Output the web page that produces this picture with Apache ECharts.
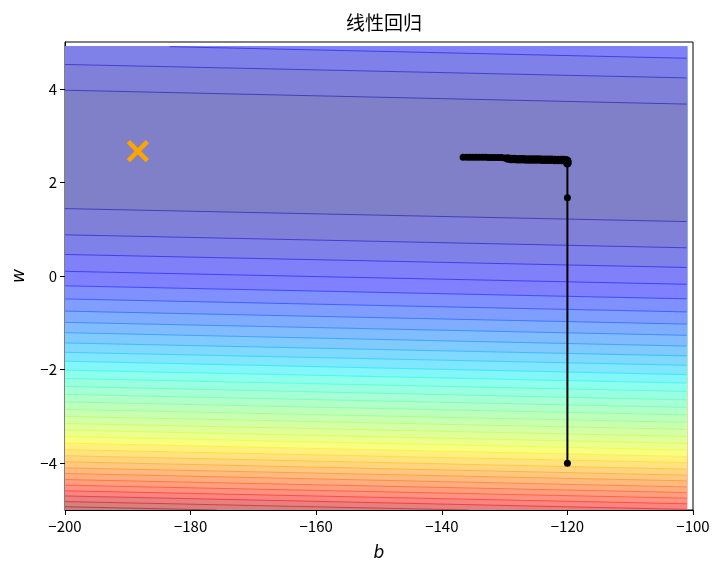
<!DOCTYPE html>
<html><head><meta charset="utf-8">
<script src="https://cdn.jsdelivr.net/npm/echarts@6/dist/echarts.min.js"></script>
<style>html,body{margin:0;padding:0;background:#fff}#c{width:727px;height:570px}</style>
</head><body><div id="c"></div>
<script>
// ---- data ----
const titleText = '线性回归';
const bRange = [-200, -100];            // x axis (b)
const wRange = [-5, 5];                 // y axis (w)
const fillB = [-200, -101];             // extent of the filled contour grid
const fillW = [-5, 4.9];
const xTickValues = [-200, -180, -160, -140, -120, -100];
const yTickValues = [-4, -2, 0, 2, 4];
// contour boundary lines: w value where each level line meets b=-200 and b=-100
const lowerAtLeft = [1.44, 0.88, 0.46, 0.10, -0.21, -0.49, -0.75, -0.99, -1.21, -1.43, -1.63, -1.82, -2.01, -2.19, -2.36, -2.53, -2.69, -2.85, -3.00, -3.15, -3.29, -3.43, -3.57, -3.71, -3.84, -3.97, -4.10, -4.22, -4.35, -4.47, -4.59, -4.70, -4.82, -4.93];
const lowerAtRight = [1.16, 0.60, 0.18, -0.18, -0.49, -0.77, -1.03, -1.27, -1.50, -1.71, -1.91, -2.11, -2.29, -2.47, -2.65, -2.81, -2.97, -3.13, -3.28, -3.43, -3.58, -3.72, -3.86, -3.99, -4.13, -4.26, -4.38, -4.51, -4.63, -4.75, -4.87, -4.99, -5.10, -5.22];
const upperAtLeft = [3.97, 4.52, 4.95];
const upperAtRight = [3.67, 4.23, 4.65];
const bandCount = 35;
// gradient descent path
const pathB = [-120, -120, -120, -120, -120.1, -120.3, -120.6,
  -121, -121.5, -122, -122.5, -123, -123.5, -124, -124.5, -125, -125.5, -126, -126.5, -127, -127.5, -128, -128.5,
  -129, -129.5, -130, -130.5, -131, -131.5, -132, -132.5, -133, -133.5, -134, -134.5, -135, -135.5, -136, -136.6];
const pathW = [-4.0, 1.67, 2.41, 2.45, 2.47, 2.475, 2.48,
  2.48, 2.48, 2.48, 2.485, 2.485, 2.485, 2.485, 2.49, 2.49, 2.49, 2.49, 2.49, 2.495, 2.495, 2.495, 2.50,
  2.50, 2.51, 2.52, 2.53, 2.53, 2.53, 2.53, 2.53, 2.535, 2.535, 2.535, 2.535, 2.54, 2.54, 2.54, 2.54];
// optimum marker
const bestB = [-188.4];
const bestW = [2.67];

// ---- helpers ----
function interp(anchors, x) {
  for (let i = 1; i < anchors.length; i++) {
    if (x <= anchors[i][0]) {
      const a = anchors[i - 1], c = anchors[i];
      return a[1] + (c[1] - a[1]) * (x - a[0]) / (c[0] - a[0]);
    }
  }
  return anchors[anchors.length - 1][1];
}
function jet(x) {
  const r = interp([[0, 0], [0.35, 0], [0.66, 1], [0.89, 1], [1, 0.5]], x);
  const g = interp([[0, 0], [0.125, 0], [0.375, 1], [0.64, 1], [0.91, 0], [1, 0]], x);
  const b = interp([[0, 0.5], [0.11, 1], [0.34, 1], [0.65, 0], [1, 0]], x);
  return [r * 255, g * 255, b * 255];
}
function mix(parts) {
  const out = [0, 0, 0];
  parts.forEach(([c, w]) => { for (let i = 0; i < 3; i++) out[i] += c[i] * w; });
  return 'rgb(' + out.map(v => Math.round(v)).join(',') + ')';
}
const WHITE = [255, 255, 255];
function bandRGB(j) { return jet((j + 0.5) / bandCount); }
function bandFill(j) { return mix([[bandRGB(j), 0.5], [WHITE, 0.5]]); }
function seamColor(inner, outer) { return mix([[bandRGB(inner), 0.375], [bandRGB(outer), 0.375], [WHITE, 0.25]]); }

function lineAt(left, right, b) {
  return left + (right - left) * (b - bRange[0]) / (bRange[1] - bRange[0]);
}
function clipPoly(pts, xmin, xmax, ymin, ymax) {
  const edges = [
    p => p[0] >= xmin, p => p[0] <= xmax, p => p[1] >= ymin, p => p[1] <= ymax
  ];
  const isect = [
    (a, c) => { const t = (xmin - a[0]) / (c[0] - a[0]); return [xmin, a[1] + t * (c[1] - a[1])]; },
    (a, c) => { const t = (xmax - a[0]) / (c[0] - a[0]); return [xmax, a[1] + t * (c[1] - a[1])]; },
    (a, c) => { const t = (ymin - a[1]) / (c[1] - a[1]); return [a[0] + t * (c[0] - a[0]), ymin]; },
    (a, c) => { const t = (ymax - a[1]) / (c[1] - a[1]); return [a[0] + t * (c[0] - a[0]), ymax]; }
  ];
  let out = pts;
  for (let e = 0; e < 4; e++) {
    const inp = out; out = [];
    for (let i = 0; i < inp.length; i++) {
      const cur = inp[i], prev = inp[(i + inp.length - 1) % inp.length];
      const ci = edges[e](cur), pi = edges[e](prev);
      if (ci) { if (!pi) out.push(isect[e](prev, cur)); out.push(cur); }
      else if (pi) out.push(isect[e](prev, cur));
    }
    if (!out.length) break;
  }
  return out;
}
function clipSeg(p, q) {
  let t0 = 0, t1 = 1;
  const dx = q[0] - p[0], dy = q[1] - p[1];
  const checks = [[-dx, p[0] - fillB[0]], [dx, fillB[1] - p[0]], [-dy, p[1] - fillW[0]], [dy, fillW[1] - p[1]]];
  for (const [pp, qq] of checks) {
    if (pp === 0) { if (qq < 0) return null; }
    else {
      const t = qq / pp;
      if (pp < 0) { if (t > t1) return null; if (t > t0) t0 = t; }
      else { if (t < t0) return null; if (t < t1) t1 = t; }
    }
  }
  return [[p[0] + t0 * dx, p[1] + t0 * dy], [p[0] + t1 * dx, p[1] + t1 * dy]];
}

const levelItems = [];
for (let k = lowerAtLeft.length + 1; k >= 1; k--) levelItems.push([k]);

function renderContour(params, api) {
  const k = api.value(0);
  const nLines = lowerAtLeft.length;
  const b0 = fillB[0], b1 = fillB[1];
  const children = [];
  let poly, fillIdx;
  if (k > nLines) {
    poly = [[b0, fillW[0]], [b1, fillW[0]], [b1, fillW[1]], [b0, fillW[1]]];
    fillIdx = bandCount - 1;
  } else {
    const lo0 = lineAt(lowerAtLeft[k - 1], lowerAtRight[k - 1], b0);
    const lo1 = lineAt(lowerAtLeft[k - 1], lowerAtRight[k - 1], b1);
    const hasUp = k - 1 < upperAtLeft.length;
    const up0 = hasUp ? lineAt(upperAtLeft[k - 1], upperAtRight[k - 1], b0) : fillW[1];
    const up1 = hasUp ? lineAt(upperAtLeft[k - 1], upperAtRight[k - 1], b1) : fillW[1];
    poly = [[b0, lo0], [b1, lo1], [b1, up1], [b0, up0]];
    fillIdx = k - 1;
    const seam = seamColor(k - 1, k);
    const segs = [clipSeg([b0, lo0], [b1, lo1])];
    if (hasUp) segs.push(clipSeg([b0, up0], [b1, up1]));
    segs.forEach(s => {
      if (!s) return;
      const a = api.coord(s[0]), c = api.coord(s[1]);
      children.push({ type: 'line', shape: { x1: a[0], y1: a[1], x2: c[0], y2: c[1] },
        style: { stroke: seam, lineWidth: 1 }, z2: 200 });
    });
  }
  poly = clipPoly(poly, fillB[0], fillB[1], fillW[0], fillW[1]);
  if (poly.length) {
    children.unshift({ type: 'polygon', shape: { points: poly.map(p => api.coord(p)) },
      style: { fill: bandFill(fillIdx), stroke: bandFill(fillIdx), lineWidth: 0.5 }, z2: nLines + 2 - k });
  }
  return { type: 'group', children };
}

function renderCross(params, api) {
  const p = api.coord([api.value(0), api.value(1)]);
  const h = 9.5;
  const st = { stroke: '#FFA500', lineWidth: 4.5 };
  return { type: 'group', children: [
    { type: 'line', shape: { x1: p[0] - h, y1: p[1] - h, x2: p[0] + h, y2: p[1] + h }, style: st },
    { type: 'line', shape: { x1: p[0] - h, y1: p[1] + h, x2: p[0] + h, y2: p[1] - h }, style: st }
  ]};
}

const minus = v => String(v).replace('-', '\u2212');
const tickFont = { fontFamily: 'Noto Sans CJK SC', fontSize: 15, color: '#000' };

const chart = echarts.init(document.getElementById('c'), null, { renderer: 'canvas' });
chart.setOption({
  animation: false,
  backgroundColor: '#fff',
  title: {
    text: titleText, left: 379, top: 8, textAlign: 'center',
    textStyle: { fontFamily: 'Noto Sans CJK SC', fontSize: 19, fontWeight: 'normal', color: '#000' }
  },
  grid: { left: 65, right: 34, top: 42, bottom: 60, show: true, borderColor: '#000', borderWidth: 1, backgroundColor: 'transparent' },
  xAxis: {
    type: 'value', min: bRange[0], max: bRange[1], interval: 20,
    name: 'b', nameLocation: 'middle', nameGap: 35,
    nameTextStyle: { fontFamily: 'DejaVu Sans', fontStyle: 'italic', fontSize: 17, color: '#000' },
    axisLine: { show: true, onZero: false, lineStyle: { color: '#000', width: 1 } },
    axisTick: { show: true, length: 5, lineStyle: { color: '#000' } },
    axisLabel: Object.assign({ margin: 9, formatter: minus }, tickFont),
    splitLine: { show: false }
  },
  yAxis: {
    type: 'value', min: wRange[0], max: wRange[1],
    name: 'w', nameLocation: 'middle', nameGap: 37, nameRotate: 90,
    nameTextStyle: { fontFamily: 'DejaVu Sans', fontStyle: 'italic', fontSize: 17, color: '#000' },
    axisLine: { show: true, onZero: false, lineStyle: { color: '#000', width: 1 } },
    axisTick: { show: true, length: 5, customValues: yTickValues, lineStyle: { color: '#000' } },
    axisLabel: Object.assign({ margin: 8, customValues: yTickValues, formatter: minus }, tickFont),
    splitLine: { show: false }
  },
  series: [
    { type: 'custom', renderItem: renderContour, data: levelItems, clip: true, z: 1, silent: true },
    { type: 'line', data: pathB.map((b, i) => [b, pathW[i]]), symbol: 'circle',
      symbolSize: v => (v[1] > 2.3 && v[0] > -129.7 ? 8.5 : 7), showSymbol: true,
      lineStyle: { color: '#000', width: 2 }, itemStyle: { color: '#000' }, z: 5, silent: true },
    { type: 'custom', renderItem: renderCross, data: bestB.map((b, i) => [b, bestW[i]]), z: 6, silent: true }
  ]
});
</script></body></html>
